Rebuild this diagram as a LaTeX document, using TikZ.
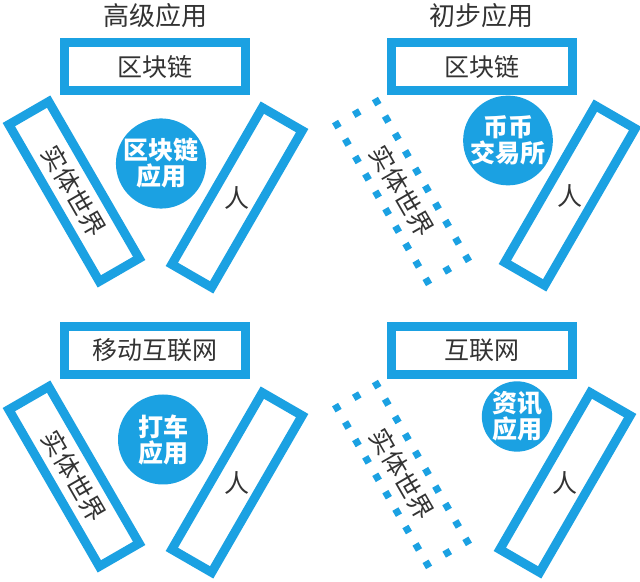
\documentclass[tikz,border=0pt]{standalone}
\usepackage{fontspec}
\newfontfamily\cjk{Noto Sans CJK SC}
\definecolor{chainblue}{RGB}{27,161,226}
\definecolor{txtgray}{RGB}{51,51,51}

\tikzset{
    paneltitle/.style={font=\cjk\fontsize{26}{28}\selectfont, text=txtgray},
    topbox/.style={draw=chainblue, line width=9pt, inner sep=0pt,
        minimum width=181pt, minimum height=48pt,
        font=\cjk\fontsize{25}{26}\selectfont, text=txtgray},
    sidebox/.style={topbox, minimum height=46pt},
    boxtext/.style={font=\cjk\fontsize{25}{26}\selectfont, text=txtgray, inner sep=0pt},
    appcircle/.style={circle, fill=chainblue, inner sep=0pt, minimum size=#1,
        align=center, text=white, font=\cjk\bfseries\fontsize{25}{26}\selectfont},
    dotsq/.style={fill=chainblue},
}

\begin{document}
\begin{tikzpicture}[x=1pt, y=-1pt]
    \fill[white] (0,0) rectangle (640,580);

    % advanced use
    \node[paneltitle] (tltitle) at (155,14) {高级应用};
    \node[topbox] (tlchain) at (155,65) {区块链};
    \node[sidebox, rotate=-60] (tlworld) at (74,190) {实体世界};
    \node[sidebox, rotate=60] (tlpeople) at (237,196) {};
    \node[boxtext] (tlren) at (tlpeople.center) {人};
    \node[appcircle=84pt] (tlapp) at (161,162) {区块链\\应用};

    % early use
    \node[paneltitle] (trtitle) at (481,14) {初步应用};
    \node[topbox] (trchain) at (482,65) {区块链};
    \node[sidebox, draw=none, rotate=-60] (trworld) at (402,190) {实体世界};
    \node[sidebox, rotate=60] (trpeople) at (570,194) {};
    \node[boxtext] (trren) at (trpeople.center) {人};
    \node[appcircle=82pt] (trapp) at (508,139) {币币\\交易所};

    % mobile internet
    \node[topbox] (blnet) at (155,349) {移动互联网};
    \node[sidebox, rotate=-60] (blworld) at (74,475) {实体世界};
    \node[sidebox, rotate=60] (blpeople) at (237,481) {};
    \node[boxtext] (blren) at (blpeople.center) {人};
    \node[appcircle=90pt] (blapp) at (163,438) {打车\\应用};

    % internet
    \node[topbox] (brnet) at (482,349) {互联网};
    \node[sidebox, draw=none, rotate=-60] (brworld) at (402,473) {实体世界};
    \node[sidebox, rotate=60] (brpeople) at (565,481) {};
    \node[boxtext] (brren) at (brpeople.center) {人};
    \node[appcircle=70pt] (brapp) at (517,415) {资讯\\应用};

    % dotted frames round the real world
    \foreach \cy in {190,473} {
        \begin{scope}[shift={(402,\cy)}, rotate=-60]
            \foreach \i in {0,...,9} {
                \fill[dotsq] ({-94+\i*20.11},-26.5) rectangle ++(7,7);
                \fill[dotsq] ({-94+\i*20.11},19.5) rectangle ++(7,7);
            }
            \fill[dotsq] (-94,-3.5) rectangle ++(7,7);
            \fill[dotsq] (87,-3.5) rectangle ++(7,7);
        \end{scope}
    }
\end{tikzpicture}
\end{document}
